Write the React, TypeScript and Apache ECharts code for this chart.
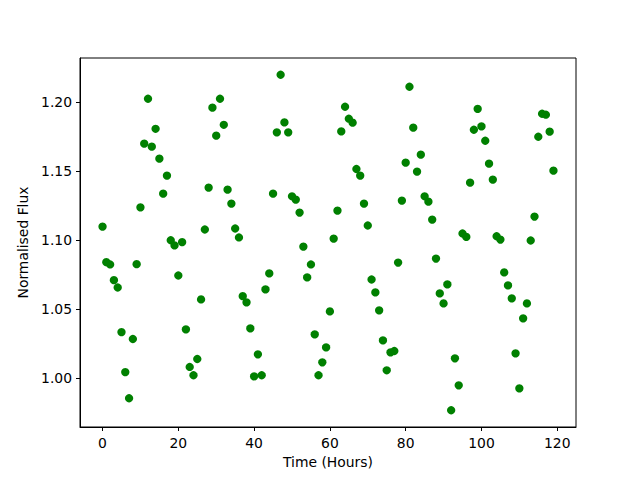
import React, { useEffect, useRef } from "react";
import * as echarts from "echarts";

const timeHours: number[] = Array.from({ length: 120 }, (_, i) => i);

const normalisedFlux: number[] = [
  1.1099, 1.0841, 1.0824, 1.071, 1.0657, 1.0333, 1.0043, 0.9853, 1.0283, 1.0826,
  1.1239, 1.1701, 1.2027, 1.1679, 1.1809, 1.1592, 1.1338, 1.1469, 1.1, 1.0962,
  1.0744, 1.0986, 1.0353, 1.008, 1.002, 1.0138, 1.057, 1.1078, 1.1382, 1.1962,
  1.1759, 1.2027, 1.1838, 1.1367, 1.1266, 1.1085, 1.102, 1.0594, 1.0549, 1.036,
  1.0012, 1.0172, 1.002, 1.0643, 1.0759, 1.1338, 1.1783, 1.2201, 1.1855, 1.1783,
  1.1319, 1.1295, 1.1201, 1.0954, 1.073, 1.0824, 1.0317, 1.002, 1.0114, 1.0222,
  1.0483, 1.1012, 1.1215, 1.179, 1.1969, 1.1882, 1.1853, 1.1517, 1.1469, 1.1266,
  1.1107, 1.0715, 1.0621, 1.0491, 1.0273, 1.0056, 1.0186, 1.0196, 1.0838, 1.1288,
  1.1563, 1.2114, 1.1817, 1.1498, 1.1621, 1.1319, 1.128, 1.115, 1.0867, 1.0614,
  1.0541, 1.0679, 0.9766, 1.0143, 0.9947, 1.1049, 1.1024, 1.1418, 1.1802, 1.1954,
  1.1826, 1.1722, 1.1556, 1.144, 1.1029, 1.1005, 1.0766, 1.0672, 1.0578, 1.0179,
  0.9925, 1.0433, 1.0541, 1.0998, 1.1172, 1.1751, 1.1918, 1.1911, 1.1788, 1.1505,
];

const xTicks: number[] = [0, 20, 40, 60, 80, 100, 120];
const yTicks: number[] = [1.0, 1.05, 1.1, 1.15, 1.2];

const xLabel = "Time (Hours)";
const yLabel = "Normalised Flux";

export default function App() {
  const ref = useRef<HTMLDivElement>(null);

  useEffect(() => {
    if (!ref.current) return;
    const chart = echarts.init(ref.current, null, { renderer: "svg" });

    const xMinD = Math.min(...timeHours);
    const xMaxD = Math.max(...timeHours);
    const yMinD = Math.min(...normalisedFlux);
    const yMaxD = Math.max(...normalisedFlux);
    const xm = (xMaxD - xMinD) * 0.05;
    const ym = (yMaxD - yMinD) * 0.05;

    const font = "DejaVu Sans";
    const fs = 13.9;

    chart.setOption({
      animation: false,
      backgroundColor: "#ffffff",
      grid: {
        left: 80,
        right: 64,
        top: 58,
        bottom: 53,
        show: true,
        borderColor: "#000000",
        borderWidth: 1,
        backgroundColor: "transparent",
      },
      xAxis: {
        type: "value",
        min: xMinD - xm,
        max: xMaxD + xm,
        name: xLabel,
        nameLocation: "middle",
        nameGap: 28,
        nameTextStyle: { fontFamily: font, fontSize: fs, color: "#000" },
        splitLine: { show: false },
        axisLine: { show: true, onZero: false, lineStyle: { color: "#000", width: 1 } },
        axisTick: {
          show: true,
          inside: false,
          length: 4,
          lineStyle: { color: "#000", width: 1 },
          customValues: xTicks,
        },
        axisLabel: {
          fontFamily: font,
          fontSize: fs,
          color: "#000",
          margin: 9,
          customValues: xTicks,
          formatter: (v: number) => String(Math.round(v)),
        },
      },
      yAxis: {
        type: "value",
        min: yMinD - ym,
        max: yMaxD + ym,
        name: yLabel,
        nameLocation: "middle",
        nameGap: 44,
        nameTextStyle: { fontFamily: font, fontSize: fs, color: "#000" },
        splitLine: { show: false },
        axisLine: { show: true, onZero: false, lineStyle: { color: "#000", width: 1 } },
        axisTick: {
          show: true,
          inside: false,
          length: 4,
          lineStyle: { color: "#000", width: 1 },
          customValues: yTicks,
        },
        axisLabel: {
          fontFamily: font,
          fontSize: fs,
          color: "#000",
          margin: 8,
          customValues: yTicks,
          formatter: (v: number) => v.toFixed(2),
        },
      },
      series: [
        {
          type: "scatter",
          data: timeHours.map((t, i) => [t, normalisedFlux[i]]),
          symbol: "circle",
          symbolSize: 8.3,
          itemStyle: { color: "#008000", opacity: 1 },
          emphasis: { disabled: true },
        },
      ],
    });

    return () => {
      chart.dispose();
    };
  }, []);

  return <div ref={ref} style={{ width: 640, height: 480, margin: -8 }} />;
}
